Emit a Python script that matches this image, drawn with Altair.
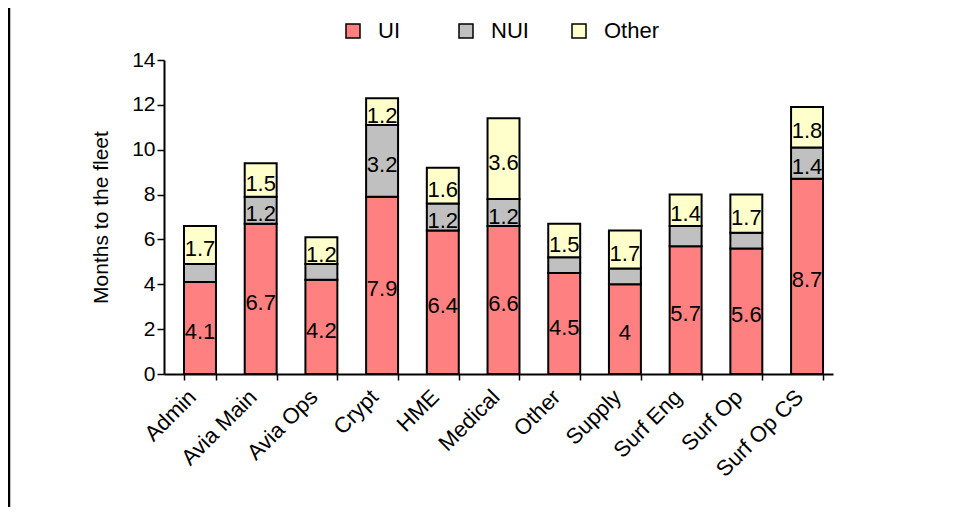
import altair as alt
import pandas as pd

FONT = "Liberation Sans"

categories = ["Admin", "Avia Main", "Avia Ops", "Crypt", "HME", "Medical",
              "Other", "Supply", "Surf Eng", "Surf Op", "Surf Op CS"]
ui = [4.1, 6.7, 4.2, 7.9, 6.4, 6.6, 4.5, 4, 5.7, 5.6, 8.7]
nui = [0.8, 1.2, 0.7, 3.2, 1.2, 1.2, 0.7, 0.7, 0.9, 0.7, 1.4]
other = [1.7, 1.5, 1.2, 1.2, 1.6, 3.6, 1.5, 1.7, 1.4, 1.7, 1.8]
series = ["UI", "NUI", "Other"]
colors = ["#FF8080", "#C0C0C0", "#FFFFCC"]
y_ticks = [0, 2, 4, 6, 8, 10, 12, 14]

rows = []
for i, c in enumerate(categories):
    for k, (s, vals) in enumerate(zip(series, [ui, nui, other])):
        rows.append({"cat": c, "series": s, "ord": k, "value": vals[i]})
df = pd.DataFrame(rows)

W, H = 669, 314

base = alt.Chart(df).transform_stack(
    stack="value", groupby=["cat"], as_=["y0", "y1"],
    sort=[alt.SortField("ord", order="ascending")]
).transform_calculate(mid="(datum.y0 + datum.y1) / 2")

xscale = alt.Scale(paddingInner=0.4737, paddingOuter=0.247, align=0.667)

xenc = alt.X("cat:N", sort=categories, scale=xscale,
             axis=alt.Axis(title=None, labelAngle=-45, labelAlign="right",
                           labelBaseline="top", tickBand="extent", tickSize=6,
                           labelPadding=6, labelOffset=-15,
                           domainColor="black", domainWidth=2,
                           tickColor="black", tickWidth=1.5, labelFontSize=22,
                           labelColor="black", labelFont=FONT))

yenc = alt.Y("y0:Q", scale=alt.Scale(domain=[0, 14], nice=False),
             axis=alt.Axis(title="Months to the fleet", values=y_ticks,
                           grid=False, tickSize=7, tickWidth=1.5, tickColor="black",
                           domainColor="black", domainWidth=2, labelPadding=2,
                           labelFontSize=21, labelFont=FONT, labelColor="black",
                           titleFontSize=21, titleFont=FONT, titleFontWeight="normal",
                           titleColor="black", titlePadding=20))

bars = base.mark_bar(stroke="black", strokeWidth=2).encode(
    x=xenc,
    y=yenc,
    y2="y1:Q",
    fill=alt.Fill("series:N", scale=alt.Scale(domain=series, range=colors),
                  legend=alt.Legend(orient="none", legendX=178, legendY=-40,
                                    direction="horizontal", title=None,
                                    symbolType="square", symbolSize=196,
                                    symbolStrokeColor="black", symbolStrokeWidth=1.5,
                                    labelFontSize=22, labelFont=FONT, labelColor="black",
                                    labelOffset=14, columnPadding=21, gridAlign="all",
                                    padding=0)),
)

labels = base.transform_filter("datum.value >= 1").mark_text(
    fontSize=22, font=FONT, color="black", dy=4
).encode(
    x=alt.X("cat:N", sort=categories),
    y=alt.Y("mid:Q"),
    text=alt.Text("value:Q"),
)

border = alt.Chart(pd.DataFrame({"k": [0]})).mark_rule(color="black", strokeWidth=2.5).encode(
    x=alt.value(-155), y=alt.value(-52), y2=alt.value(H + 133)
)

chart = alt.layer(bars, labels, border).properties(
    width=W, height=H,
    autosize=alt.AutoSizeParams(type="none"),
    padding={"left": 156, "top": 52, "right": 110, "bottom": 133},
).configure_view(strokeWidth=0)

chart.save("out.html", embed_options={"renderer": "svg", "actions": False})
